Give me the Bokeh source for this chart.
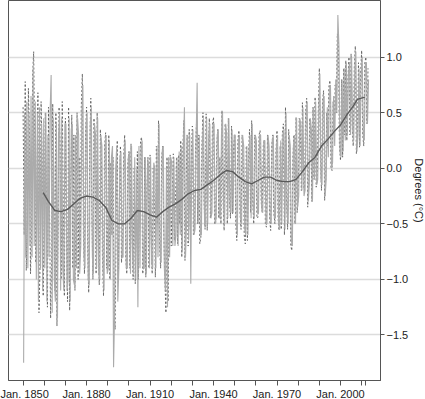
import numpy as np
from bokeh.plotting import figure
from bokeh.models import FixedTicker, Range1d
from bokeh.embed import file_html
from bokeh.resources import INLINE

# Dotted series: half-yearly values starting Jan. 1850
dotted_start = 1850.0
dotted_vals = [
    0.55, -0.6, 0.78, -0.92, -0.4, 0.72, 0.3, -0.95, -0.6, 0.85,
    1.05, 0.2, -0.85, -0.3, 0.68, -1.3, -0.9, 0.6, 0.1, -1.15,
    -0.5, 0.5, -0.2, -1.25, 0.55, -0.4, -1.35, -0.8, 0.58, 0.0,
    -1.1, 0.5, -1.42, -0.6, 0.55, 0.2, -1.0, 0.6, -0.3, -1.15,
    0.45, -0.6, -1.2, 0.55, -1.28, -0.2, 0.48, -0.9, 0.3, -1.1,
    -0.4, 0.5, -1.0, 0.1, -0.8, 0.55, 0.85, -0.6, -0.95, 0.3,
    0.55, -0.7, -1.12, 0.2, 0.63, -0.4, -1.0, 0.45, 0.1, -0.95,
    0.5, -0.7, -1.05, 0.35, 0.1, -0.8, -1.15, 0.2, 0.32, -0.9,
    -0.5, 0.3, -1.0, 0.05, -0.6, 0.1, -1.3, -1.45, -0.4, 0.25,
    -1.0, -0.3, 0.2, -0.85, -0.7, 0.1, 0.3, -0.8, -0.95, 0.05,
    0.15, -0.9, 0.22, -0.6, -1.0, 0.0, -1.04, -0.4, 0.15, -1.0,
    -0.3, 0.25, 0.28, -0.95, -0.9, 0.1, -0.98, -0.2, 0.1, -0.9,
    0.12, -0.6, -0.95, 0.0, -0.3, -0.98, 0.2, -0.5, 0.43, -0.7,
    -0.9, 0.1, 0.2, -0.6, -1.0, -1.3, 0.1, -1.2, -0.4, 0.12,
    -0.7, -0.2, 0.13, -0.65, -0.3, 0.1, -0.68, 0.12, -0.5, 0.25,
    -0.8, 0.2, 0.43, -0.83, -0.2, 0.3, -0.7, 0.35, -0.55, 0.1,
    0.38, -0.6, -0.59, 0.2, 0.43, -0.5, 0.3, -0.68, -0.62, 0.2,
    0.5, -0.3, -0.55, 0.49, -0.56, 0.1, 0.45, -0.45, -0.3, 0.4,
    0.46, -0.5, -0.5, 0.2, 0.35, -0.45, 0.1, -0.5, 0.52, -0.3,
    -0.56, 0.4, 0.2, -0.5, 0.45, -0.3, -0.45, 0.38, -0.41, 0.2,
    0.3, -0.5, -0.65, 0.25, 0.34, -0.4, -0.55, 0.3, 0.1, -0.6,
    -0.68, 0.2, -0.65, 0.1, 0.35, -0.4, 0.43, -0.3, -0.5, 0.3,
    0.2, -0.45, -0.44, 0.3, 0.34, -0.3, -0.4, 0.2, 0.25, -0.5,
    -0.53, 0.3, 0.1, -0.45, -0.56, 0.2, 0.3, -0.4, -0.5, 0.15,
    0.34, -0.45, -0.56, 0.2, -0.55, 0.3, 0.4, -0.6, 0.55, -0.3,
    -0.55, 0.35, 0.2, -0.7, -0.74, 0.1, 0.3, -0.5, 0.46, -0.4,
    -0.26, 0.45, 0.4, -0.2, 0.59, -0.15, -0.2, 0.5, 0.63, -0.35,
    -0.1, 0.45, 0.3, -0.3, 0.55, -0.1, 0.64, -0.17, -0.1, 0.5,
    0.9, 0.1, -0.2, 0.6, 0.7, -0.29, -0.1, 0.5, 0.2, 0.73,
    0.79, 0.0, -0.02, 0.6, 0.3, 0.75, 0.5, 1.21, 1.15, 0.2,
    0.07, 0.8, 0.1, 0.9, 0.3, 0.97, 0.25, 0.8, 1.0, 0.3,
    1.03, 0.4, 0.2, 0.9, 1.1, 0.13, 0.3, 0.95, 0.19, 0.85,
    1.06, 0.3, 0.2, 0.95, 1.0, 0.4, 0.9,
]

# Gray series: half-yearly values starting Apr. 1850
gray_start = 1850.25
gray_vals = [
    -1.75, 0.5, -0.8, 0.6, -0.9, 0.5, -0.7, 0.65, -0.8, 0.9,
    -0.7, 0.6, -1.0, 0.5, -1.2, 0.55, -0.9, 0.4, -1.1, 0.45,
    -0.9, 0.5, -1.2, 0.3, -0.8, 0.5, 0.84, -1.3, 0.45, -1.0,
    -1.2, 0.4, -1.35, 0.3, 0.5, -1.1, 0.45, -0.9, -1.1, 0.4,
    0.4, -1.1, -1.0, 0.45, -1.2, 0.35, 0.4, -1.0, -1.05, 0.3,
    -0.9, 0.45, 0.3, -0.95, -0.7, 0.5, 0.75, -0.8, -0.9, 0.4,
    0.5, -1.0, -1.05, 0.4, 0.55, -0.8, -0.95, 0.4, 0.3, -0.9,
    0.45, -0.95, -1.0, 0.3, 0.2, -0.9, -1.1, 0.2, 0.3, -0.95,
    -0.9, 0.25, -1.0, 0.1, 0.2, -1.79, -1.3, 0.0, 0.2, -1.2,
    -0.9, 0.1, 0.15, -0.8, -0.8, 0.1, 0.25, -0.9, -0.9, 0.1,
    0.15, -0.95, 0.2, -0.8, -0.95, 0.1, -1.0, 0.0, -1.25, 0.2,
    -0.9, 0.2, 0.25, -0.9, -0.9, 0.1, -0.95, 0.0, 0.05, -0.9,
    0.1, -0.85, -0.9, 0.05, 0.0, -0.9, 0.2, -0.8, 0.4, -0.75,
    -0.85, 0.15, 0.2, -0.9, -1.1, 0.0, -1.25, 0.1, -0.8, 0.1,
    0.05, -0.7, 0.1, -0.7, -0.6, 0.1, -0.7, 0.15, -0.6, 0.2,
    -0.75, 0.2, 0.55, -0.8, -0.5, 0.3, -0.65, 0.3, -1.04, 0.15,
    0.35, -0.6, -0.55, 0.25, 0.77, -0.5, 0.3, -0.6, -0.6, 0.25,
    0.45, -0.5, -0.5, 0.45, -0.5, 0.3, 0.4, -0.45, -0.4, 0.4,
    0.4, -0.5, -0.45, 0.3, 0.35, -0.45, -0.4, 0.3, 0.5, -0.35,
    -0.5, 0.4, 0.3, -0.45, 0.45, -0.35, -0.4, 0.35, -0.4, 0.3,
    0.3, -0.5, -0.6, 0.25, 0.3, -0.45, -0.5, 0.3, 0.2, -0.55,
    -0.6, 0.2, -0.6, 0.15, 0.3, -0.45, 0.4, -0.35, -0.45, 0.3,
    0.25, -0.4, -0.4, 0.3, 0.3, -0.35, -0.4, 0.25, 0.25, -0.5,
    -0.5, 0.3, 0.2, -0.45, -0.5, 0.25, 0.3, -0.45, -0.45, 0.2,
    0.3, -0.5, -0.55, 0.25, -0.5, 0.3, 0.35, -0.55, 0.5, -0.4,
    -0.5, 0.3, 0.2, -0.65, -0.7, 0.2, 0.3, -0.5, 0.45, -0.35,
    -0.25, 0.45, 0.4, -0.2, 0.55, -0.25, -0.2, 0.5, 0.6, -0.3,
    -0.15, 0.45, 0.35, -0.3, 0.55, -0.1, 0.6, -0.15, -0.1, 0.55,
    0.85, -0.1, -0.15, 0.6, 0.65, -0.25, -0.1, 0.55, 0.1, 0.7,
    0.75, 0.0, 0.05, 0.65, 0.2, 0.8, 0.5, 1.38, 1.1, 0.15,
    0.1, 0.8, 0.15, 0.9, 0.25, 0.95, 0.3, 0.85, 0.95, 0.3,
    1.0, 0.35, 0.25, 0.9, 1.05, 0.15, 0.3, 0.9, 0.2, 0.85,
    1.0, 0.3, 0.25, 0.95, 0.95, 0.4, 0.8,
]

# Long-term smoothed trend
trend_years = [1859.5, 1862, 1865, 1868, 1871, 1874, 1877, 1880, 1883, 1886,
               1889, 1892, 1895, 1898, 1901, 1904, 1907, 1910, 1913, 1916,
               1919, 1922, 1925, 1928, 1931, 1934, 1937, 1940, 1943, 1946,
               1949, 1952, 1955, 1958, 1961, 1964, 1967, 1970, 1973, 1976,
               1979, 1982, 1985, 1988, 1991, 1994, 1997, 2000, 2003, 2006,
               2008, 2011.5]
trend_vals = [-0.22, -0.3, -0.38, -0.39, -0.37, -0.32, -0.27, -0.25, -0.26, -0.29,
              -0.35, -0.47, -0.5, -0.5, -0.45, -0.38, -0.39, -0.42, -0.44, -0.39,
              -0.35, -0.32, -0.28, -0.23, -0.2, -0.19, -0.15, -0.11, -0.06, -0.02,
              -0.03, -0.08, -0.12, -0.14, -0.11, -0.08, -0.08, -0.11, -0.12, -0.12,
              -0.1, -0.03, 0.05, 0.1, 0.2, 0.26, 0.33, 0.39, 0.48, 0.56,
              0.62, 0.64]

x_ticks = [1850, 1860, 1870, 1880, 1890, 1900, 1910, 1920, 1930, 1940,
           1950, 1960, 1970, 1980, 1990, 2000, 2010, 2012]
x_labels = {1850: "Jan. 1850", 1880: "Jan. 1880", 1910: "Jan. 1910",
            1940: "Jan. 1940", 1970: "Jan. 1970", 2000: "Jan. 2000"}
y_ticks = [-1.5, -1.0, -0.5, 0.0, 0.5, 1.0]
y_labels = ["\u22121.5", "\u22121.0", "\u22120.5", "0.0", "0.5", "1.0"]

dotted_x = dotted_start + 0.5 * np.arange(len(dotted_vals))
gray_x = gray_start + 0.5 * np.arange(len(gray_vals))

FONT = "Liberation Sans"

p = figure(frame_width=372, frame_height=380,
           x_range=Range1d(1843.1, 2018.9), y_range=Range1d(-1.91, 1.51),
           y_axis_location="right",
           output_backend="svg", toolbar_location=None,
           min_border_left=8, min_border_top=0, min_border_right=5,
           min_border_bottom=5)

p.background_fill_color = "white"
p.border_fill_color = "white"
p.outline_line_color = "#555555"
p.outline_line_width = 1

p.xgrid.visible = False
p.ygrid.ticker = FixedTicker(ticks=y_ticks)
p.ygrid.grid_line_color = "#dcdcdc"
p.ygrid.grid_line_width = 1.5

p.line(dotted_x, dotted_vals, line_color="#5a5a5a", line_width=0.9, line_dash="2 2")
p.line(gray_x, gray_vals, line_color="#ababab", line_width=1.1)
p.line(trend_years, trend_vals, line_color="#5a5a5a", line_width=1.4)

xa = p.xaxis[0]
xa.ticker = FixedTicker(ticks=x_ticks)
xa.major_label_overrides = {t: x_labels.get(t, "") for t in x_ticks}
xa.minor_tick_line_color = None
xa.major_tick_out = 5
xa.major_tick_in = 0
xa.major_tick_line_color = "#555555"
xa.axis_line_color = "#555555"
xa.major_label_standoff = 2
xa.major_label_text_font = FONT
xa.major_label_text_font_size = "11px"
xa.major_label_text_color = "#222222"

ya = p.yaxis[0]
ya.ticker = FixedTicker(ticks=y_ticks)
ya.major_label_overrides = {t: l for t, l in zip(y_ticks, y_labels)}
ya.minor_tick_line_color = None
ya.major_tick_out = 4
ya.major_tick_in = 0
ya.major_tick_line_color = "#555555"
ya.axis_line_color = "#555555"
ya.major_label_standoff = 2
ya.major_label_text_font = FONT
ya.major_label_text_font_size = "11px"
ya.major_label_text_color = "#222222"
ya.axis_label = "Degrees (\u00b0C)"
ya.axis_label_text_font = FONT
ya.axis_label_text_font_size = "11px"
ya.axis_label_text_font_style = "normal"
ya.axis_label_text_color = "#222222"
ya.axis_label_standoff = 2

open("out.html", "w").write(file_html(p, INLINE))
